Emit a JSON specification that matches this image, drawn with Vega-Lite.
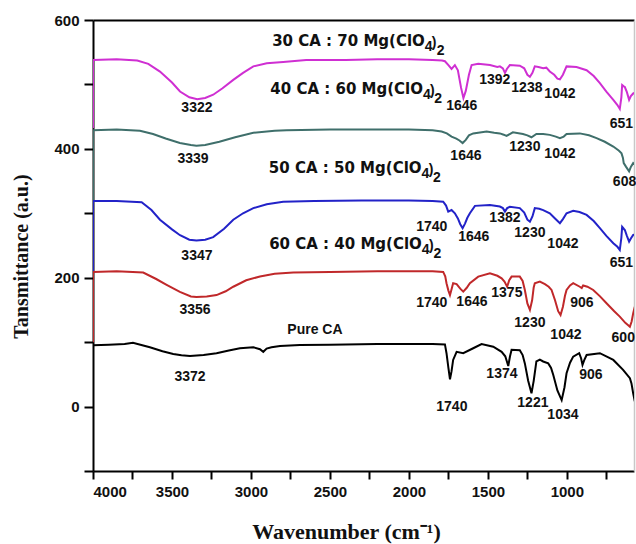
{
 "$schema": "https://vega.github.io/schema/vega-lite/v6.json",
 "width": 541,
 "height": 451,
 "autosize": "none",
 "padding": {"left": 93, "top": 20, "right": 2, "bottom": 73},
 "background": "white",
 "config": {
  "view": {"stroke": null},
  "axis": {
   "domainColor": "#000", "domainWidth": 2, "tickColor": "#000", "tickWidth": 2,
   "labelFont": "Liberation Sans", "labelFontWeight": "bold", "labelFontSize": 15, "labelColor": "#111",
   "titleFont": "Liberation Serif", "titleFontWeight": "bold", "titleFontSize": 22, "titleColor": "#111",
   "grid": false
  }
 },
 "datasets": {
  "spectra": [
   {"s":"M","w":4000,"t":432},{"s":"M","w":4000,"t":538},{"s":"M","w":3850,"t":539},{"s":"M","w":3720,"t":537},{"s":"M","w":3650,"t":532},{"s":"M","w":3576,"t":520},{"s":"M","w":3500,"t":503},{"s":"M","w":3449,"t":489},{"s":"M","w":3390,"t":480},{"s":"M","w":3340,"t":477},{"s":"M","w":3290,"t":479},{"s":"M","w":3239,"t":484},{"s":"M","w":3180,"t":494},{"s":"M","w":3112,"t":507},{"s":"M","w":3050,"t":518},{"s":"M","w":2985,"t":528},{"s":"M","w":2900,"t":533},{"s":"M","w":2796,"t":535},{"s":"M","w":2650,"t":538},{"s":"M","w":2400,"t":538},{"s":"M","w":2200,"t":539},{"s":"M","w":2000,"t":539},{"s":"M","w":1850,"t":538},{"s":"M","w":1790,"t":537},{"s":"M","w":1772,"t":536},{"s":"M","w":1750,"t":530},{"s":"M","w":1730,"t":524},{"s":"M","w":1709,"t":530},{"s":"M","w":1690,"t":522},{"s":"M","w":1670,"t":495},{"s":"M","w":1655,"t":479},{"s":"M","w":1640,"t":490},{"s":"M","w":1620,"t":515},{"s":"M","w":1603,"t":530},{"s":"M","w":1561,"t":532},{"s":"M","w":1487,"t":530},{"s":"M","w":1440,"t":527},{"s":"M","w":1424,"t":528},{"s":"M","w":1405,"t":525},{"s":"M","w":1392,"t":518},{"s":"M","w":1380,"t":524},{"s":"M","w":1361,"t":530},{"s":"M","w":1298,"t":529},{"s":"M","w":1270,"t":525},{"s":"M","w":1250,"t":515},{"s":"M","w":1234,"t":512},{"s":"M","w":1218,"t":518},{"s":"M","w":1203,"t":528},{"s":"M","w":1180,"t":527},{"s":"M","w":1150,"t":525},{"s":"M","w":1130,"t":526},{"s":"M","w":1108,"t":520},{"s":"M","w":1080,"t":515},{"s":"M","w":1060,"t":509},{"s":"M","w":1044,"t":508},{"s":"M","w":1025,"t":515},{"s":"M","w":1002,"t":528},{"s":"M","w":939,"t":527},{"s":"M","w":875,"t":522},{"s":"M","w":830,"t":513},{"s":"M","w":791,"t":502},{"s":"M","w":750,"t":489},{"s":"M","w":706,"t":476},{"s":"M","w":680,"t":468},{"s":"M","w":665,"t":462},{"s":"M","w":655,"t":480},{"s":"M","w":650,"t":499},{"s":"M","w":640,"t":497},{"s":"M","w":633,"t":496},{"s":"M","w":620,"t":488},{"s":"M","w":606,"t":476},{"s":"M","w":595,"t":482},{"s":"M","w":580,"t":486},{"s":"M","w":570,"t":487},
   {"s":"T","w":4000,"t":320},{"s":"T","w":4000,"t":429},{"s":"T","w":3850,"t":430},{"s":"T","w":3703,"t":428},{"s":"T","w":3620,"t":423},{"s":"T","w":3540,"t":416},{"s":"T","w":3450,"t":409},{"s":"T","w":3380,"t":406},{"s":"T","w":3345,"t":405},{"s":"T","w":3290,"t":406},{"s":"T","w":3200,"t":411},{"s":"T","w":3100,"t":418},{"s":"T","w":2985,"t":425},{"s":"T","w":2850,"t":428},{"s":"T","w":2774,"t":429},{"s":"T","w":2500,"t":430},{"s":"T","w":2200,"t":430},{"s":"T","w":2000,"t":430},{"s":"T","w":1850,"t":429},{"s":"T","w":1793,"t":427},{"s":"T","w":1760,"t":424},{"s":"T","w":1730,"t":419},{"s":"T","w":1700,"t":416},{"s":"T","w":1680,"t":413},{"s":"T","w":1660,"t":409},{"s":"T","w":1640,"t":414},{"s":"T","w":1620,"t":421},{"s":"T","w":1593,"t":424},{"s":"T","w":1508,"t":427},{"s":"T","w":1460,"t":425},{"s":"T","w":1424,"t":424},{"s":"T","w":1400,"t":422},{"s":"T","w":1382,"t":420},{"s":"T","w":1342,"t":425.6},{"s":"T","w":1278,"t":423},{"s":"T","w":1250,"t":421},{"s":"T","w":1224,"t":418},{"s":"T","w":1193,"t":423},{"s":"T","w":1150,"t":423},{"s":"T","w":1108,"t":421.7},{"s":"T","w":1070,"t":419},{"s":"T","w":1044,"t":416.6},{"s":"T","w":1020,"t":419},{"s":"T","w":1002,"t":423},{"s":"T","w":918,"t":424},{"s":"T","w":860,"t":421},{"s":"T","w":812,"t":416.6},{"s":"T","w":760,"t":411},{"s":"T","w":706,"t":403.6},{"s":"T","w":670,"t":397},{"s":"T","w":654,"t":393},{"s":"T","w":645,"t":386},{"s":"T","w":640,"t":378},{"s":"T","w":625,"t":372},{"s":"T","w":606,"t":365},{"s":"T","w":595,"t":372},{"s":"T","w":580,"t":378},{"s":"T","w":570,"t":376},
   {"s":"B","w":4000,"t":210},{"s":"B","w":4000,"t":319},{"s":"B","w":3850,"t":319},{"s":"B","w":3692,"t":317},{"s":"B","w":3630,"t":305},{"s":"B","w":3576,"t":290},{"s":"B","w":3500,"t":275},{"s":"B","w":3449,"t":266},{"s":"B","w":3390,"t":259},{"s":"B","w":3345,"t":257.6},{"s":"B","w":3290,"t":259},{"s":"B","w":3239,"t":263},{"s":"B","w":3170,"t":276},{"s":"B","w":3112,"t":290},{"s":"B","w":3050,"t":300},{"s":"B","w":2985,"t":308},{"s":"B","w":2900,"t":314},{"s":"B","w":2796,"t":318},{"s":"B","w":2600,"t":319},{"s":"B","w":2300,"t":320},{"s":"B","w":2000,"t":320},{"s":"B","w":1850,"t":319},{"s":"B","w":1783,"t":318},{"s":"B","w":1765,"t":312},{"s":"B","w":1751,"t":302.6},{"s":"B","w":1730,"t":305},{"s":"B","w":1709,"t":300},{"s":"B","w":1690,"t":292},{"s":"B","w":1675,"t":283},{"s":"B","w":1660,"t":277},{"s":"B","w":1645,"t":284},{"s":"B","w":1630,"t":293},{"s":"B","w":1614,"t":300},{"s":"B","w":1582,"t":311.5},{"s":"B","w":1487,"t":313},{"s":"B","w":1424,"t":310.4},{"s":"B","w":1405,"t":308},{"s":"B","w":1392,"t":302.6},{"s":"B","w":1378,"t":308},{"s":"B","w":1361,"t":310},{"s":"B","w":1298,"t":308},{"s":"B","w":1270,"t":301},{"s":"B","w":1250,"t":290},{"s":"B","w":1234,"t":287},{"s":"B","w":1218,"t":295},{"s":"B","w":1203,"t":308},{"s":"B","w":1175,"t":307},{"s":"B","w":1150,"t":305},{"s":"B","w":1108,"t":300},{"s":"B","w":1075,"t":292},{"s":"B","w":1044,"t":284.6},{"s":"B","w":1025,"t":291},{"s":"B","w":1002,"t":300},{"s":"B","w":960,"t":304},{"s":"B","w":920,"t":302},{"s":"B","w":875,"t":297.5},{"s":"B","w":830,"t":288},{"s":"B","w":791,"t":277},{"s":"B","w":750,"t":265},{"s":"B","w":706,"t":253.6},{"s":"B","w":680,"t":248},{"s":"B","w":665,"t":243},{"s":"B","w":655,"t":262},{"s":"B","w":650,"t":279},{"s":"B","w":640,"t":276},{"s":"B","w":633,"t":274},{"s":"B","w":620,"t":265},{"s":"B","w":606,"t":256},{"s":"B","w":595,"t":261},{"s":"B","w":580,"t":266.5},{"s":"B","w":570,"t":267},
   {"s":"R","w":4000,"t":100},{"s":"R","w":4000,"t":209},{"s":"R","w":3850,"t":210},{"s":"R","w":3682,"t":208},{"s":"R","w":3600,"t":198},{"s":"R","w":3534,"t":189},{"s":"R","w":3450,"t":178},{"s":"R","w":3380,"t":171},{"s":"R","w":3345,"t":170},{"s":"R","w":3280,"t":171},{"s":"R","w":3218,"t":173},{"s":"R","w":3160,"t":179},{"s":"R","w":3112,"t":186},{"s":"R","w":3030,"t":196},{"s":"R","w":2943,"t":202},{"s":"R","w":2850,"t":206},{"s":"R","w":2732,"t":208},{"s":"R","w":2500,"t":209},{"s":"R","w":2200,"t":210},{"s":"R","w":2000,"t":210},{"s":"R","w":1850,"t":210},{"s":"R","w":1783,"t":209},{"s":"R","w":1770,"t":202},{"s":"R","w":1762,"t":191.5},{"s":"R","w":1750,"t":180},{"s":"R","w":1740,"t":173},{"s":"R","w":1730,"t":182},{"s":"R","w":1720,"t":191.5},{"s":"R","w":1698,"t":190},{"s":"R","w":1675,"t":183},{"s":"R","w":1656,"t":178.4},{"s":"R","w":1635,"t":184},{"s":"R","w":1614,"t":191.5},{"s":"R","w":1561,"t":201.7},{"s":"R","w":1487,"t":207},{"s":"R","w":1440,"t":203},{"s":"R","w":1413,"t":199},{"s":"R","w":1395,"t":194},{"s":"R","w":1378,"t":186},{"s":"R","w":1365,"t":196},{"s":"R","w":1350,"t":201.7},{"s":"R","w":1298,"t":201.7},{"s":"R","w":1280,"t":195},{"s":"R","w":1266,"t":181},{"s":"R","w":1250,"t":160},{"s":"R","w":1234,"t":150},{"s":"R","w":1220,"t":165},{"s":"R","w":1210,"t":185},{"s":"R","w":1203,"t":191.5},{"s":"R","w":1171,"t":194},{"s":"R","w":1139,"t":190},{"s":"R","w":1115,"t":186},{"s":"R","w":1097,"t":181},{"s":"R","w":1075,"t":165},{"s":"R","w":1055,"t":148},{"s":"R","w":1040,"t":142},{"s":"R","w":1025,"t":155},{"s":"R","w":1012,"t":172},{"s":"R","w":1002,"t":181},{"s":"R","w":980,"t":188},{"s":"R","w":960,"t":191.5},{"s":"R","w":918,"t":186},{"s":"R","w":906,"t":184},{"s":"R","w":897,"t":188},{"s":"R","w":870,"t":186},{"s":"R","w":833,"t":181},{"s":"R","w":790,"t":171},{"s":"R","w":749,"t":160.4},{"s":"R","w":700,"t":148},{"s":"R","w":665,"t":139.6},{"s":"R","w":630,"t":130},{"s":"R","w":610,"t":126},{"s":"R","w":601,"t":124},{"s":"R","w":590,"t":132},{"s":"R","w":580,"t":145},{"s":"R","w":570,"t":155},
   {"s":"K","w":4000,"t":95},{"s":"K","w":3900,"t":96},{"s":"K","w":3800,"t":97},{"s":"K","w":3747,"t":99},{"s":"K","w":3700,"t":96},{"s":"K","w":3640,"t":92},{"s":"K","w":3560,"t":86},{"s":"K","w":3492,"t":81.7},{"s":"K","w":3440,"t":79.5},{"s":"K","w":3386,"t":78.6},{"s":"K","w":3300,"t":80},{"s":"K","w":3218,"t":82.8},{"s":"K","w":3140,"t":87},{"s":"K","w":3070,"t":90.5},{"s":"K","w":2985,"t":92},{"s":"K","w":2943,"t":89},{"s":"K","w":2922,"t":85},{"s":"K","w":2901,"t":90},{"s":"K","w":2870,"t":92},{"s":"K","w":2816,"t":94},{"s":"K","w":2690,"t":95.6},{"s":"K","w":2500,"t":96},{"s":"K","w":2200,"t":97},{"s":"K","w":2000,"t":97},{"s":"K","w":1850,"t":97},{"s":"K","w":1772,"t":96.5},{"s":"K","w":1762,"t":82.8},{"s":"K","w":1750,"t":60},{"s":"K","w":1740,"t":42.4},{"s":"K","w":1730,"t":55},{"s":"K","w":1720,"t":72.4},{"s":"K","w":1698,"t":85},{"s":"K","w":1656,"t":82.8},{"s":"K","w":1593,"t":90.5},{"s":"K","w":1540,"t":97},{"s":"K","w":1466,"t":93},{"s":"K","w":1413,"t":85},{"s":"K","w":1390,"t":78},{"s":"K","w":1371,"t":63},{"s":"K","w":1360,"t":78},{"s":"K","w":1350,"t":88},{"s":"K","w":1298,"t":87.5},{"s":"K","w":1280,"t":80},{"s":"K","w":1266,"t":67},{"s":"K","w":1245,"t":40},{"s":"K","w":1224,"t":20.6},{"s":"K","w":1210,"t":40},{"s":"K","w":1193,"t":70},{"s":"K","w":1171,"t":73},{"s":"K","w":1150,"t":70},{"s":"K","w":1118,"t":67},{"s":"K","w":1100,"t":60},{"s":"K","w":1086,"t":49},{"s":"K","w":1060,"t":25},{"s":"K","w":1033,"t":10},{"s":"K","w":1015,"t":30},{"s":"K","w":1002,"t":51.7},{"s":"K","w":980,"t":68},{"s":"K","w":960,"t":77.5},{"s":"K","w":922,"t":82.8},{"s":"K","w":910,"t":75},{"s":"K","w":901,"t":64.6},{"s":"K","w":890,"t":72},{"s":"K","w":875,"t":80},{"s":"K","w":791,"t":82.8},{"s":"K","w":706,"t":72.4},{"s":"K","w":644,"t":57},{"s":"K","w":601,"t":44},{"s":"K","w":591,"t":36},{"s":"K","w":580,"t":20},{"s":"K","w":570,"t":8}
  ],
  "peaks": [
   {"w":3342,"t":463,"l":"3322"},{"w":1665,"t":467,"l":"1646"},{"w":1456,"t":507,"l":"1392"},{"w":1253,"t":495,"l":"1238"},{"w":1044,"t":485,"l":"1042"},{"w":655,"t":439,"l":"651"},
   {"w":3367,"t":384,"l":"3339"},{"w":1639,"t":389,"l":"1646"},{"w":1266,"t":403,"l":"1230"},{"w":1044,"t":392,"l":"1042"},{"w":635,"t":349,"l":"608"},
   {"w":3342,"t":234,"l":"3347"},{"w":1855,"t":279,"l":"1740"},{"w":1589,"t":263,"l":"1646"},{"w":1392,"t":293,"l":"1382"},{"w":1234,"t":269,"l":"1230"},{"w":1025,"t":253,"l":"1042"},{"w":655,"t":223,"l":"651"},
   {"w":3354,"t":150,"l":"3356"},{"w":1855,"t":161,"l":"1740"},{"w":1601,"t":162,"l":"1646"},{"w":1380,"t":176,"l":"1375"},{"w":1234,"t":130,"l":"1230"},{"w":1006,"t":111,"l":"1042"},{"w":905,"t":161,"l":"906"},{"w":643,"t":106,"l":"600"},
   {"w":3386,"t":46,"l":"3372"},{"w":1728,"t":0,"l":"1740"},{"w":1411,"t":51,"l":"1374"},{"w":1215,"t":6,"l":"1221"},{"w":1025,"t":-13,"l":"1034"},{"w":848,"t":49,"l":"906"},
   {"w":2595,"t":119,"l":"Pure CA"}
  ],
  "names": [
   {"w":1899,"t":567.7,"l":"30 CA : 70 Mg(ClO"},
   {"w":1911,"t":493,"l":"40 CA : 60 Mg(ClO"},
   {"w":1920,"t":371,"l":"50 CA : 50 Mg(ClO"},
   {"w":1918,"t":252.5,"l":"60 CA : 40 Mg(ClO"}
  ],
  "subs": [
   {"w":1899,"t":557.6,"l":"4"},{"w":1855,"t":563.8,"l":")"},{"w":1823,"t":552.2,"l":"2"},
   {"w":1911,"t":482.9,"l":"4"},{"w":1867,"t":489.1,"l":")"},{"w":1839,"t":477.5,"l":"2"},
   {"w":1920,"t":360.9,"l":"4"},{"w":1875,"t":367.1,"l":")"},{"w":1847,"t":355.5,"l":"2"},
   {"w":1918,"t":242.4,"l":"4"},{"w":1873,"t":248.6,"l":")"},{"w":1845,"t":237,"l":"2"}
  ]
 },
 "layer": [
  {
   "data": {"name": "spectra"},
   "mark": {"type": "line", "strokeWidth": 2, "clip": true},
   "encoding": {
    "x": {"field": "w", "type": "quantitative", "scale": {"domain": [4000, 575], "nice": false, "zero": false},
     "axis": {"orient": "bottom", "values": [4000,3750,3500,3250,3000,2750,2500,2250,2000,1750,1500,1250,1000,750], "format": "d",
      "labelExpr": "datum.value % 500 === 0 ? datum.label : ''", "tickSize": 8, "labelPadding": 5,
      "title": "Wavenumber (cm⁻¹)", "titleX": 253, "titleY": 50, "titleBaseline": "top"}},
    "y": {"field": "t", "type": "quantitative", "scale": {"domain": [-100, 600], "nice": false, "zero": false},
     "axis": {"orient": "left", "values": [-100,0,100,200,300,400,500,600], "format": "d",
      "labelExpr": "datum.value % 200 === 0 ? datum.label : ''", "tickSize": 9, "labelPadding": 5,
      "title": "Tansmittance (a.u.)", "titleFontSize": 20, "titleX": -62, "titleY": 236, "titleBaseline": "bottom"}},
    "color": {"field": "s", "type": "nominal", "legend": null,
     "scale": {"domain": ["M","T","B","R","K"], "range": ["#cf2fd2", "#3f6f6b", "#2222c8", "#c0282a", "#000000"]}},
    "order": {"value": null}
   }
  },
  {
   "data": {"name": "peaks"},
   "mark": {"type": "text", "font": "Liberation Sans", "fontWeight": "bold", "fontSize": 14, "color": "#111", "align": "center", "baseline": "middle"},
   "encoding": {
    "x": {"field": "w", "type": "quantitative", "axis": {"orient": "top", "labels": false, "ticks": false, "title": null, "domainColor": "#000", "domainWidth": 2}},
    "y": {"field": "t", "type": "quantitative", "axis": {"orient": "right", "labels": false, "ticks": false, "title": null, "domainColor": "#c8c8c8", "domainWidth": 1.5}},
    "text": {"field": "l"}
   }
  },
  {
   "data": {"name": "names"},
   "mark": {"type": "text", "font": "DejaVu Sans", "fontWeight": "bold", "fontSize": 15, "color": "#111", "align": "right", "baseline": "middle"},
   "encoding": {
    "x": {"field": "w", "type": "quantitative", "axis": null},
    "y": {"field": "t", "type": "quantitative", "axis": null},
    "text": {"field": "l"}
   }
  },
  {
   "data": {"name": "subs"},
   "mark": {"type": "text", "font": "Liberation Sans", "fontWeight": "bold", "fontSize": 14, "color": "#111", "align": "left", "baseline": "middle"},
   "encoding": {
    "x": {"field": "w", "type": "quantitative", "axis": null},
    "y": {"field": "t", "type": "quantitative", "axis": null},
    "text": {"field": "l"}
   }
  }
 ],
 "resolve": {"axis": {"x": "independent", "y": "independent"}}
}
